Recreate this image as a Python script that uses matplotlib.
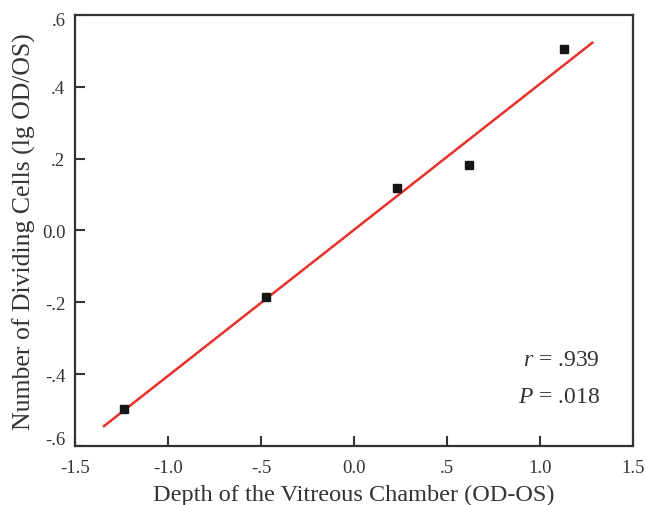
import numpy as np
import matplotlib
matplotlib.use("Agg")
import matplotlib.pyplot as plt
from matplotlib.transforms import ScaledTranslation

# Data
depth_diff = [-1.235, -0.472, 0.231, 0.620, 1.131]
dividing_cells = [-0.496, -0.185, 0.117, 0.181, 0.504]
fit_x_range = [-1.344, 1.281]

x_ticks = [-1.5, -1.0, -0.5, 0.0, 0.5, 1.0, 1.5]
x_tick_labels = ["-1.5", "-1.0", "-.5", "0.0", ".5", "1.0", "1.5"]
y_ticks = [-0.6, -0.4, -0.2, 0.0, 0.2, 0.4, 0.6]
y_tick_labels = ["-.6", "-.4", "-.2", "0.0", ".2", ".4", ".6"]

plt.rcParams['font.family'] = ['Liberation Serif', 'DejaVu Serif']
plt.rcParams['mathtext.fontset'] = 'custom'
plt.rcParams['mathtext.it'] = 'Liberation Serif:italic'
plt.rcParams['mathtext.rm'] = 'Liberation Serif'

fig = plt.figure(figsize=(6.46, 5.06), dpi=100)
ax = fig.add_axes([0.1161, 0.1166, 0.8638, 0.8518])

slope, intercept = np.polyfit(depth_diff, dividing_cells, 1)
lx = np.array(fit_x_range)
ax.plot(lx, slope * lx + intercept, color='#e8302a', lw=1.8, zorder=2)
ax.plot(depth_diff, dividing_cells, 's', color='#161616', ms=6.3, zorder=3)

ax.set_xlim(-1.5, 1.5)
ax.set_ylim(-0.6, 0.6)
ax.set_xticks(x_ticks)
ax.set_xticklabels(x_tick_labels)
ax.set_yticks(y_ticks)
ax.set_yticklabels(y_tick_labels)
ax.tick_params(direction='in', length=7, width=1.5, color='#333333',
               labelsize=13.5, top=False, right=False, labelcolor='#333333')
ax.tick_params(axis='x', pad=9)
ax.tick_params(axis='y', pad=7)

# the extreme y tick labels sit slightly inward in the reference
ylabels = ax.get_yticklabels()
ylabels[0].set_transform(ylabels[0].get_transform() + ScaledTranslation(0, 9/100, fig.dpi_scale_trans))
ylabels[-1].set_transform(ylabels[-1].get_transform() + ScaledTranslation(0, -4/100, fig.dpi_scale_trans))

for s in ax.spines.values():
    s.set_linewidth(1.6)
    s.set_color('#333333')

ax.set_xlabel("Depth of the Vitreous Chamber (OD-OS)", fontsize=17.5, color='#333333', labelpad=6)
ax.set_ylabel("Number of Dividing Cells (lg OD/OS)", fontsize=18.5, color='#333333', labelpad=4)

ax.text(0.941, 0.2, r"$\it{r}$ = .939", transform=ax.transAxes, ha='right', va='center',
        fontsize=17, color='#333333')
ax.text(0.941, 0.116, r"$\it{P}$ = .018", transform=ax.transAxes, ha='right', va='center',
        fontsize=17, color='#333333')

fig.savefig("out.png", dpi=100)
